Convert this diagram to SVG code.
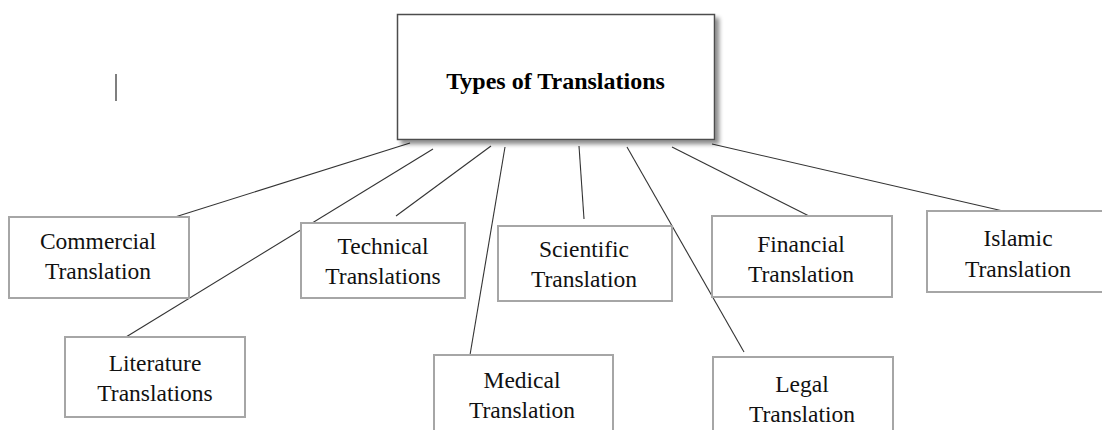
<svg xmlns="http://www.w3.org/2000/svg" width="1102" height="430" viewBox="0 0 1102 430">
<defs>
<filter id="shadow" x="-10%" y="-10%" width="125%" height="130%">
<feGaussianBlur in="SourceAlpha" stdDeviation="2"/>
<feOffset dx="4" dy="4" result="b"/>
<feComponentTransfer><feFuncA type="linear" slope="0.45"/></feComponentTransfer>
<feMerge><feMergeNode/><feMergeNode in="SourceGraphic"/></feMerge>
</filter>
</defs>
<style>
.box{fill:#fff;stroke:#a6a6a6;stroke-width:2}
.main{fill:#fff;stroke:#4d4d4d;stroke-width:1.5}
.t{font-family:"Liberation Serif","Times New Roman",serif;font-size:23.5px;fill:#111;text-anchor:middle}
.title{font-family:"Liberation Serif","Times New Roman",serif;font-size:24px;font-weight:bold;fill:#000;text-anchor:middle}
.c{stroke:#333;stroke-width:1.1;fill:none}
</style>
<rect width="1102" height="430" fill="#fff"/>
<line x1="116" y1="74" x2="116" y2="101" stroke="#555" stroke-width="1.5"/>
<g id="connectors">
<line class="c" x1="410" y1="143" x2="175" y2="217"/>
<line class="c" x1="433" y1="149" x2="126" y2="337"/>
<line class="c" x1="491" y1="146" x2="396" y2="216"/>
<line class="c" x1="505" y1="147" x2="470" y2="355"/>
<line class="c" x1="579" y1="146" x2="584" y2="219"/>
<line class="c" x1="627" y1="147" x2="744" y2="352"/>
<line class="c" x1="672" y1="147" x2="809" y2="216"/>
<line class="c" x1="712" y1="144" x2="1003" y2="211"/>
</g>
<g id="types">
<rect class="main" x="397.5" y="14.5" width="317" height="125" filter="url(#shadow)"/>
<text class="title" x="555.5" y="89">Types of Translations</text>
</g>
<g id="commercial">
<rect class="box" x="9" y="217" width="180" height="81"/>
<text class="t" x="98" y="249">Commercial</text>
<text class="t" x="98" y="279">Translation</text>
</g>
<g id="literature">
<rect class="box" x="65" y="337" width="180" height="80"/>
<text class="t" x="155" y="371">Literature</text>
<text class="t" x="155" y="401">Translations</text>
</g>
<g id="technical">
<rect class="box" x="301" y="223" width="164" height="75"/>
<text class="t" x="383" y="254">Technical</text>
<text class="t" x="383" y="284">Translations</text>
</g>
<g id="scientific">
<rect class="box" x="498" y="226" width="174" height="75"/>
<text class="t" x="584" y="257">Scientific</text>
<text class="t" x="584" y="287">Translation</text>
</g>
<g id="medical">
<rect class="box" x="434" y="355" width="179" height="90"/>
<text class="t" x="522" y="388">Medical</text>
<text class="t" x="522" y="418">Translation</text>
</g>
<g id="financial">
<rect class="box" x="712" y="216" width="180" height="81"/>
<text class="t" x="801" y="252">Financial</text>
<text class="t" x="801" y="282">Translation</text>
</g>
<g id="islamic">
<rect class="box" x="927" y="211" width="182" height="81"/>
<text class="t" x="1018" y="246">Islamic</text>
<text class="t" x="1018" y="277">Translation</text>
</g>
<g id="legal">
<rect class="box" x="713" y="357" width="180" height="90"/>
<text class="t" x="802" y="392">Legal</text>
<text class="t" x="802" y="422">Translation</text>
</g>
</svg>
